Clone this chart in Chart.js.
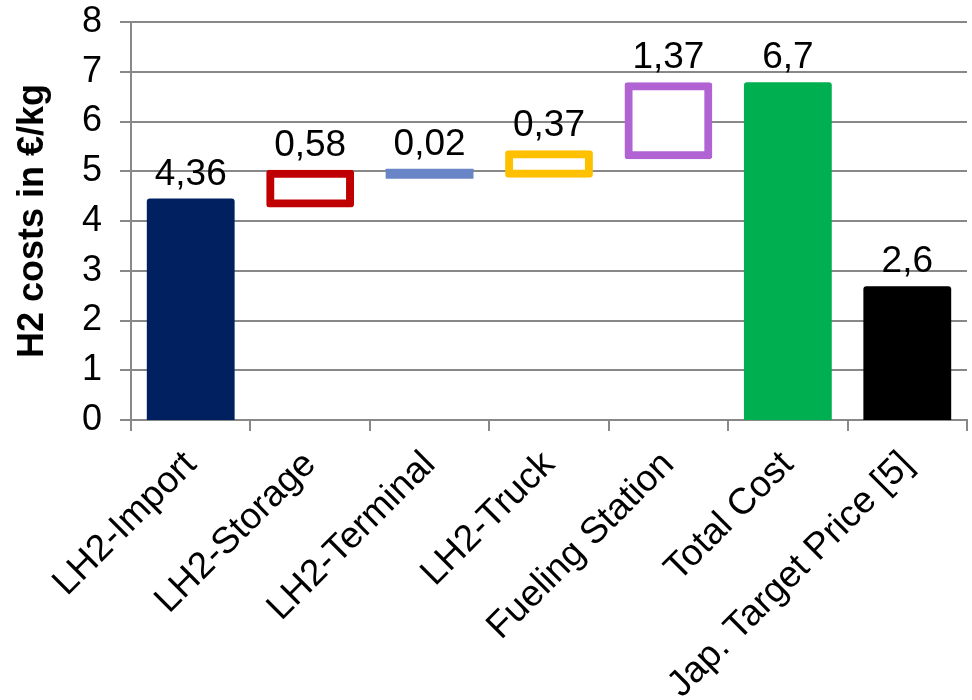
<!DOCTYPE html>
<html>
<head>
<meta charset="utf-8">
<script src="https://cdn.jsdelivr.net/npm/chart.js@4.4.0/dist/chart.umd.min.js"></script>
<style>
  html, body { margin: 0; padding: 0; background: #fff; }
  #wrap { width: 972px; height: 700px; }
</style>
</head>
<body>
<div id="wrap"><canvas id="costChart"></canvas></div>
<script>
const categories = ['LH2-Import', 'LH2-Storage', 'LH2-Terminal', 'LH2-Truck', 'Fueling Station', 'Total Cost', 'Jap. Target Price [5]'];
const costs = [4.36, 0.58, 0.02, 0.37, 1.37, 6.7, 2.6];
// bars that start at zero (the others float on the running sum)
const fromZero = [true, false, false, false, false, true, true];
const yTicks = [0, 1, 2, 3, 4, 5, 6, 7, 8];

const barColors = ['#002060', '#C00000', '#6A84C8', '#FFC000', '#B163D3', '#00B050', '#000000'];
const outlined = [false, true, false, true, true, false, false];

// build floating ranges
let running = 0;
const ranges = costs.map((v, i) => {
  if (fromZero[i]) {
    running = v;
    return [0, v];
  }
  const r = [running, running + v];
  running += v;
  return r;
});

const FONT = '"Liberation Sans", Arial, sans-serif';
const INFLATE = 4.5;

const valueLabels = {
  id: 'valueLabels',
  afterDatasetsDraw(chart) {
    const ctx = chart.ctx;
    const meta = chart.getDatasetMeta(0);
    ctx.save();
    ctx.font = '37px ' + FONT;
    ctx.fillStyle = '#000';
    ctx.textAlign = 'center';
    ctx.textBaseline = 'alphabetic';
    meta.data.forEach((bar, i) => {
      const top = Math.min(bar.y, bar.base) - INFLATE - 14;
      ctx.fillText(String(costs[i]).replace('.', ','), bar.x, top);
    });
    ctx.restore();
  }
};

new Chart(document.getElementById('costChart'), {
  type: 'bar',
  data: {
    labels: categories,
    datasets: [{
      data: ranges,
      backgroundColor: barColors.map((c, i) => outlined[i] ? '#ffffff' : c),
      borderColor: barColors,
      borderWidth: outlined.map(o => o ? 8 : 0),
      borderSkipped: false,
      borderRadius: 3,
      inflateAmount: INFLATE,
      categoryPercentage: 1,
      barPercentage: 0.66
    }]
  },
  options: {
    responsive: true,
    maintainAspectRatio: false,
    animation: false,
    layout: { padding: { left: 0, right: 5, top: 0, bottom: 0 } },
    plugins: {
      legend: { display: false },
      tooltip: { enabled: false }
    },
    scales: {
      x: {
        grid: {
          drawOnChartArea: false,
          color: '#888',
          lineWidth: 2,
          tickLength: 11
        },
        border: { color: '#888', width: 2 },
        ticks: {
          minRotation: 45,
          maxRotation: 45,
          padding: 12,
          color: '#000',
          font: { family: FONT, size: 37 }
        },
        afterFit(scale) { scale.height = 280; }
      },
      y: {
        min: 0,
        max: 8,
        afterBuildTicks(scale) { scale.ticks = yTicks.map(v => ({ value: v })); },
        grid: {
          color: '#888',
          lineWidth: 2,
          tickLength: 11
        },
        border: { color: '#888', width: 2 },
        ticks: {
          padding: 18,
          color: '#000',
          font: { family: FONT, size: 36 }
        },
        title: {
          display: true,
          text: 'H2 costs in €/kg',
          color: '#000',
          padding: { top: 11, bottom: 0 },
          font: { family: FONT, size: 36, weight: 'bold' }
        },
        afterFit(scale) {
          scale.width = 131;
          scale.paddingTop = 22;
        }
      }
    }
  },
  plugins: [valueLabels]
});
</script>
</body>
</html>
